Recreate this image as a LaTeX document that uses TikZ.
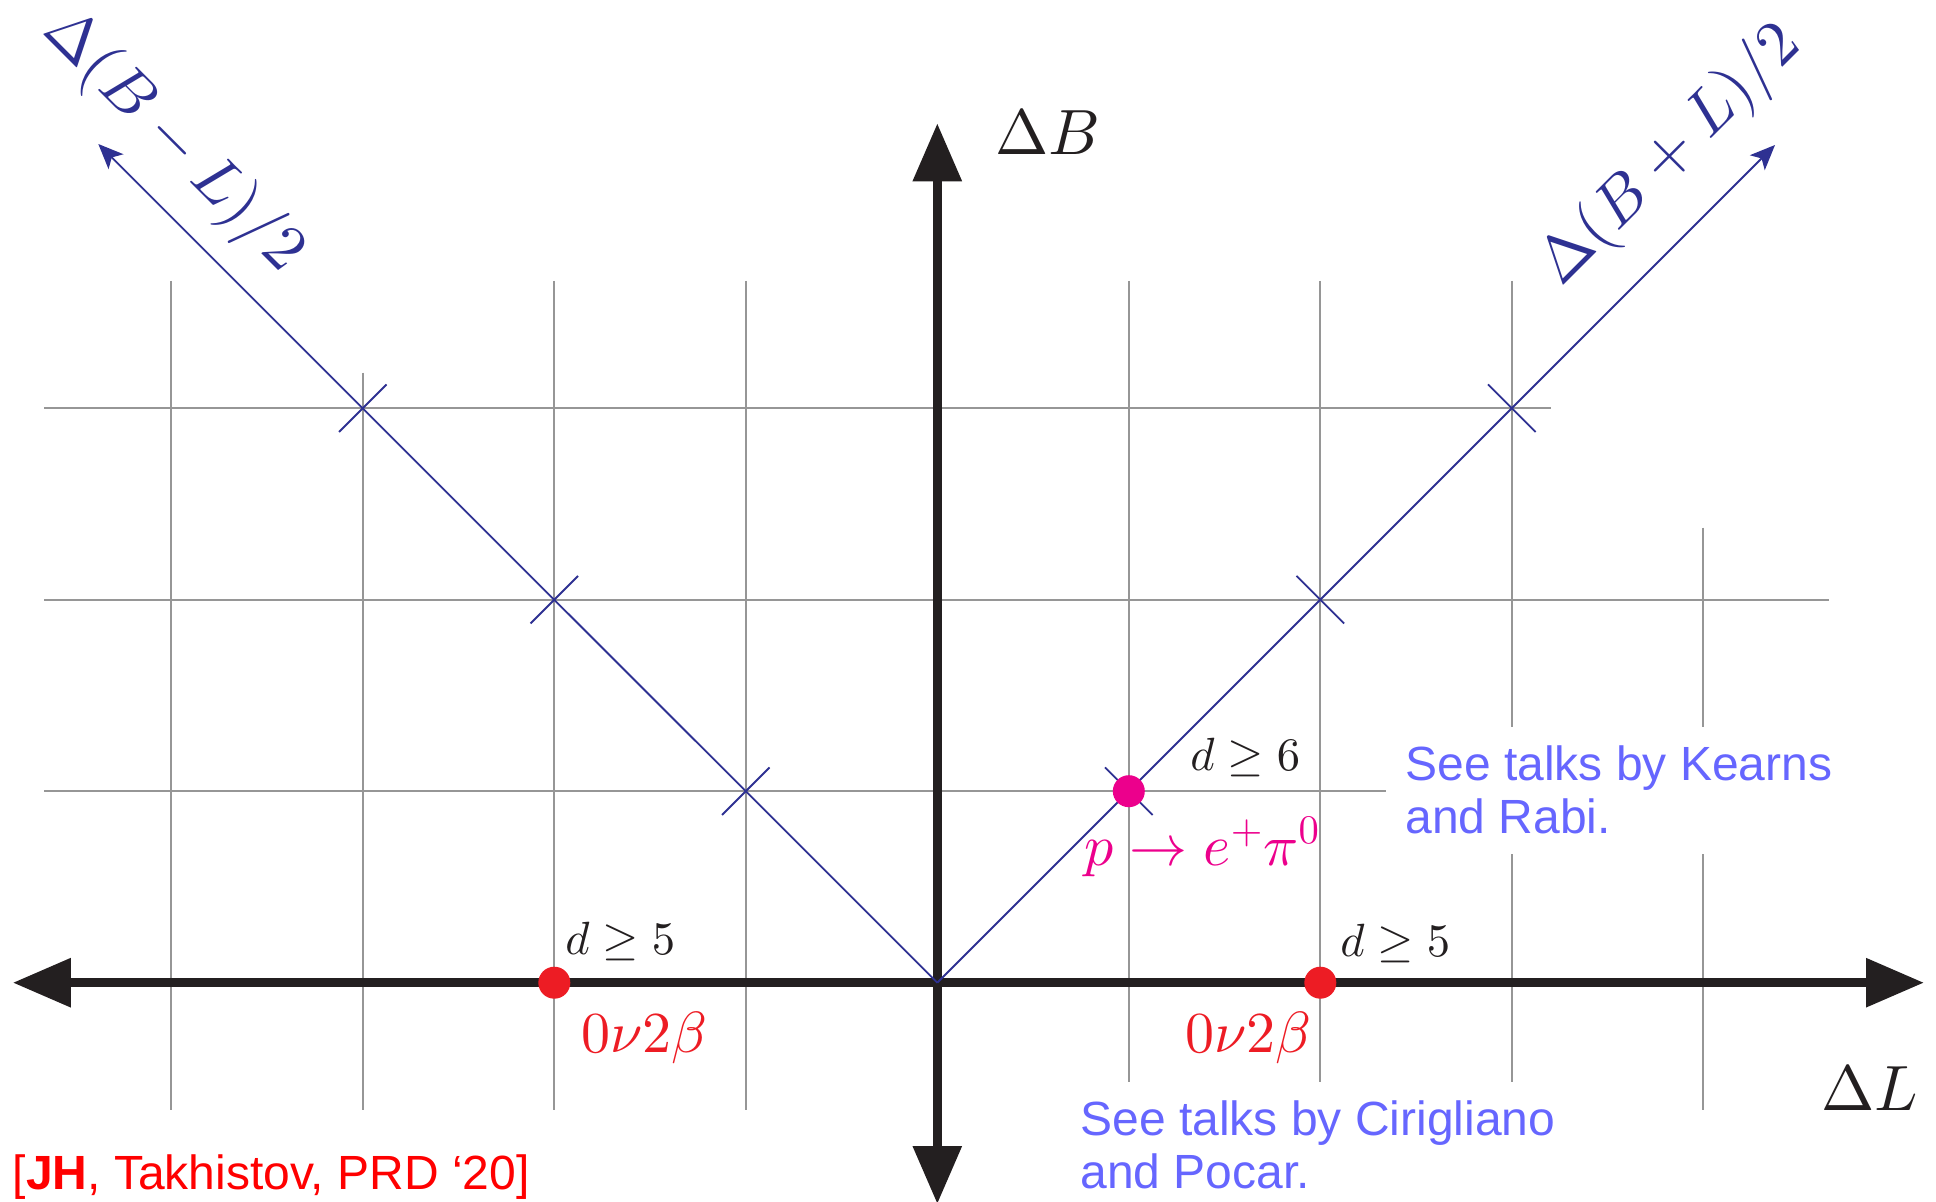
\RequirePackage{fix-cm}
\documentclass[tikz,border=0pt]{standalone}
\usepackage[no-math]{fontspec}
\DeclareFontShape{OML}{cmm}{m}{it}{<->cmmi10}{}
\DeclareFontShape{OMS}{cmsy}{m}{n}{<->cmsy10}{}
\DeclareFontShape{OT1}{cmr}{m}{n}{<->cmr10}{}
\newfontfamily\arialf{Liberation Sans}
\usetikzlibrary{arrows.meta}
\definecolor{navy}{RGB}{46,49,146}
\definecolor{axisblack}{RGB}{35,31,32}
\definecolor{gridgray}{RGB}{150,150,150}
\definecolor{dotred}{RGB}{237,28,36}
\definecolor{magentac}{RGB}{236,0,140}
\definecolor{noteblue}{RGB}{102,102,255}
\definecolor{citered}{RGB}{255,0,0}
\begin{document}
\begin{tikzpicture}[x=0.5pt,y=-0.5pt,
  gridline/.style={draw=gridgray, line width=1pt},
  axisline/.style={draw=axisblack, line width=4.65pt, {Triangle[length=29pt,width=23.5pt]}-{Triangle[length=29pt,width=23.5pt]}},
  diagline/.style={draw=navy, line width=0.9pt, -{Stealth[length=12.5pt,width=10.5pt,inset=3pt]}},
  crossmark/.style={draw=navy, line width=0.9pt},
  dotmark/.style={circle, inner sep=0pt, minimum size=16pt},
  bigmath/.style={inner sep=0pt, font=\fontsize{32}{38}\selectfont},
  midmath/.style={inner sep=0pt, font=\fontsize{29}{35}\selectfont},
  smallmath/.style={inner sep=0pt, font=\fontsize{23.3}{28}\selectfont, text=axisblack},
  note/.style={inner sep=0pt, anchor=base west, font=\arialf\fontsize{24}{28}\selectfont, text=noteblue},
]
\useasboundingbox (0,0) rectangle (1936,1202);

% grid (vertical lines)
\draw[gridline] (171.3,281) -- (171.3,1110);
\draw[gridline] (362.8,372.7) -- (362.8,1110);
\draw[gridline] (554.3,281) -- (554.3,1110);
\draw[gridline] (745.8,281) -- (745.8,1110);
\draw[gridline] (1128.8,281) -- (1128.8,1082);
\draw[gridline] (1320.3,281) -- (1320.3,1082);
\draw[gridline] (1511.8,281) -- (1511.8,727) (1511.8,854) -- (1511.8,1082);
\draw[gridline] (1703.3,527.7) -- (1703.3,727) (1703.3,854) -- (1703.3,1110);
% grid (horizontal lines)
\draw[gridline] (44,408.2) -- (1551,408.2);
\draw[gridline] (44,599.7) -- (1829,599.7);
\draw[gridline] (44,791.2) -- (1386,791.2);

% axes
\coordinate (O) at (937.3,982.7);
\coordinate (Ltip) at (12.8,982.7);
\coordinate (Rtip) at (1924,982.7);
\coordinate (Ttip) at (937.3,123.3);
\coordinate (Btip) at (937.3,1204);
\draw[axisline] (Ltip) -- (Rtip);
\draw[axisline] (Btip) -- (Ttip);

% diagonal directions
\coordinate (BmL) at (98.3,144);
\coordinate (BpL) at (1775,145);
\draw[diagline] (O) -- (BmL);
\draw[diagline] (O) -- (BpL);
\foreach \k in {1,2,3} {
  \draw[crossmark] (937.3-\k*191.5-23.8, 982.7-\k*191.5+23.8) -- (937.3-\k*191.5+23.8, 982.7-\k*191.5-23.8);
  \draw[crossmark] (937.3+\k*191.5-23.8, 982.7-\k*191.5-23.8) -- (937.3+\k*191.5+23.8, 982.7-\k*191.5+23.8);
}

% dots
\node[dotmark, fill=dotred] (dotL) at (554.3,982.7) {};
\node[dotmark, fill=dotred] (dotR) at (1320.3,982.7) {};
\node[dotmark, fill=magentac] (dotP) at (1128.8,791.2) {};

% axis labels
\node[bigmath, anchor=base west, text=axisblack] (lblB) at (995,155) {$\Delta B$};
\node[bigmath, anchor=base west, text=axisblack] (lblL) at (1821,1110) {$\Delta L$};
\node[bigmath, text=navy, rotate=-45] (lblBmL) at (173,142) {$\Delta(B-L)/2$};
\node[bigmath, text=navy, rotate=45] (lblBpL) at (1671,156) {$\Delta(B+L)/2$};

% process labels
\node[smallmath, anchor=base west] (dL) at (565,954) {$d\geq 5$};
\node[smallmath, anchor=base west] (dR) at (1340,956) {$d\geq 5$};
\node[smallmath, anchor=base west] (dP) at (1190,770) {$d\geq 6$};
\node[midmath, anchor=base west, text=dotred] (nuL) at (581,1052) {$0\nu2\beta$};
\node[midmath, anchor=base west, text=dotred] (nuR) at (1185,1052) {$0\nu2\beta$};
\node[midmath, anchor=base west, text=magentac] (pdec) at (1084,865) {$p\rightarrow e^{+}\pi^{0}$};

% notes
\node[note] (k1) at (1405,780) {See talks by Kearns};
\node[note] (k2) at (1405,833.3) {and Rabi.};
\node[note] (c1) at (1080,1135) {See talks by Cirigliano};
\node[note] (c2) at (1080,1188.3) {and Pocar.};
\node[note, text=citered] (cite) at (12.5,1189) {[\textbf{JH}, Takhistov, PRD ‘20]};
\end{tikzpicture}
\end{document}
